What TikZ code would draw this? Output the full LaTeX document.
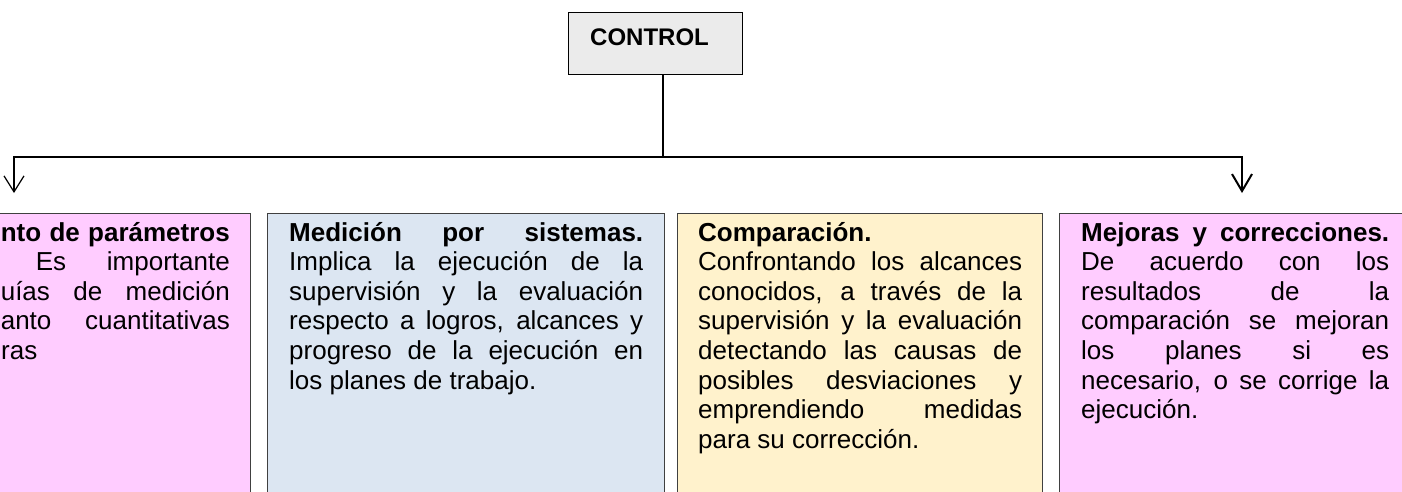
\documentclass[tikz,border=0pt]{standalone}
\usepackage{fontspec}
\setmainfont{Liberation Sans}
\usetikzlibrary{arrows.meta}
\definecolor{pinkfill}{HTML}{FFCCFF}
\definecolor{bluefill}{HTML}{DCE6F2}
\definecolor{yellowfill}{HTML}{FFF2CC}
\definecolor{ctrlfill}{HTML}{EBEBEB}
\definecolor{edge}{HTML}{404040}
\newcommand{\jline}[1]{\hbox to \hsize{#1}\\}
\tikzset{
  panel/.style={draw=edge, line width=1.3pt, anchor=north west, inner sep=0pt, minimum height=300pt},
  body/.style={anchor=base west, inner sep=0pt, align=justify, font=\fontsize{26}{29.6}\selectfont},
  frag/.style={inner sep=0pt, font=\fontsize{26}{29.6}\selectfont},
  trunk/.style={line width=2.5pt},
  droparrow/.style={-{Straight Barb[length=16pt,width=20pt,line width=1.2pt]}},
}
\begin{document}
\begin{tikzpicture}[x=1pt,y=-1pt]
\useasboundingbox (0,0) rectangle (1402,491);
\clip (0,0) rectangle (1402,491);
% top box
\node[draw=black, line width=1.2pt, fill=ctrlfill, anchor=north west, inner sep=0pt,
      minimum width=174pt, minimum height=62pt] (ctrl) at (568,12) {};
\node[anchor=base west, inner sep=0pt, font=\bfseries\fontsize{24}{28}\selectfont] (ctrltxt) at (590,45) {CONTROL};
% connectors
\coordinate (jC) at (663,157);
\coordinate (jL) at (14,157);
\coordinate (jR) at (1242,157);
\coordinate (tL) at (14,193);
\coordinate (tR) at (1242,193);
\draw[trunk] (ctrl.south -| jC) -- (jC);
\draw[trunk, line cap=rect] (jL) -- (jR);
\draw[line width=1.2pt, droparrow] (jL) -- (tL);
\draw[line width=2pt, -{Straight Barb[length=17pt,width=20pt,line width=2pt]}] (jR) -- (tR);
% panels
\node[panel, fill=pinkfill, minimum width=262pt] (pL) at (-12,213) {};
\node[panel, fill=bluefill, minimum width=397pt] (bl) at (267,213) {};
\node[panel, fill=yellowfill, minimum width=365pt] (ye) at (677,213) {};
\node[panel, fill=pinkfill, minimum width=360pt] (pR) at (1059,213) {};
% left (cut) panel text
\node[frag, anchor=base east] (l1) at (230,241) {\makebox[229pt][s]{\bfseries nto de parámetros}};
\node[frag, anchor=base east] (l2) at (230,270.6) {\makebox[194pt][s]{Es\hfill importante}};
\node[frag, anchor=base east] (l3) at (230,300.2) {\makebox[229pt][s]{uías de medición}};
\node[frag, anchor=base east] (l4) at (230,329.8) {\makebox[229pt][s]{anto\hfill cuantitativas}};
\node[frag, anchor=base west] (l5) at (1,359.4) {ras};
% blue panel text
\node[body, text width=354pt] (blt) at (289,241) {%
\jline{\bfseries Medición por sistemas.}%
\jline{Implica la ejecución de la}%
\jline{supervisión y la evaluación}%
\jline{respecto a logros, alcances y}%
\jline{progreso de la ejecución en}%
los planes de trabajo.};
% yellow panel text
\node[body, text width=324pt] (yet) at (698,241) {%
{\bfseries Comparación.}\\
\jline{Confrontando los alcances}%
\jline{conocidos, a través de la}%
\jline{supervisión y la evaluación}%
\jline{detectando las causas de}%
\jline{posibles desviaciones y}%
\jline{emprendiendo medidas}%
para su corrección.};
% right pink panel text
\node[body, text width=308pt] (prt) at (1081,241) {%
\jline{\bfseries Mejoras y correcciones.}%
\jline{De acuerdo con los}%
\jline{resultados de la}%
\jline{comparación se mejoran}%
\jline{los planes si es}%
\jline{necesario, o se corrige la}%
ejecución.};
\end{tikzpicture}
\end{document}
